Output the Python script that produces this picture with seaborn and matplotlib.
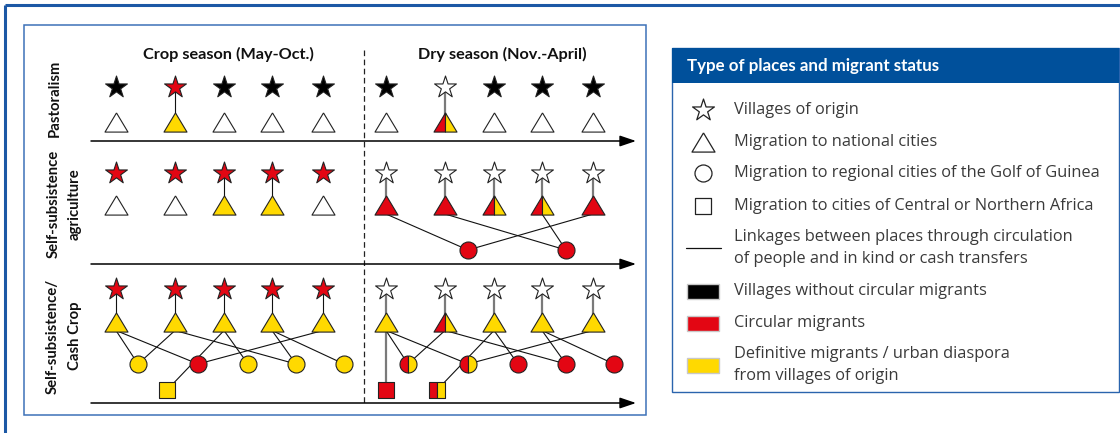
import numpy as np
import pandas as pd
import matplotlib
matplotlib.use("Agg")
import matplotlib.pyplot as plt
import seaborn as sns
from matplotlib import font_manager
from matplotlib.patches import Rectangle

# ---------------------------------------------------------------- data
rows = ["Pastoralism", "Self-subsistence\nagriculture", "Self-subsistence/\nCash Crop"]
seasons = ["Crop season (May-Oct.)", "Dry season (Nov.-April)"]
# status codes: K = village without circular migrants, R = circular migrants,
# Y = definitive migrants / urban diaspora, W = unmarked place, RY = both
stars_crop = [["K", "R", "K", "K", "K"], ["R"] * 5, ["R"] * 5]
stars_dry = [["K", "W", "K", "K", "K"], ["W"] * 5, ["W"] * 5]
tri_crop = [["W", "Y", "W", "W", "W"], ["W", "W", "Y", "Y", "W"], ["Y"] * 5]
tri_dry = [["W", "RY", "W", "W", "W"], ["R", "R", "RY", "RY", "R"], ["Y", "RY", "Y", "Y", "Y"]]
circ_crop = [[None] * 5, [None] * 5, ["Y", "R", "Y", "Y", "Y"]]
circ_dry = [[None] * 5, [None, "R", None, "R", None], ["RY", "RY", "R", "R", "R"]]
sq_crop = [[None, None], [None, None], [None, "Y"]]
sq_dry = [[None, None], [None, None], ["R", "RY"]]
# links: (triangle index, target kind, target index)
links_crop = [[], [],
              [(0, "c", 0), (0, "c", 1), (1, "c", 0), (1, "c", 3), (2, "s", 1),
               (2, "c", 2), (3, "c", 3), (3, "c", 4), (4, "c", 1)]]
links_dry = [[], [(0, "c", 1), (1, "c", 3), (3, "c", 3), (4, "c", 1)],
             [(0, "s", 0), (0, "c", 0), (0, "c", 1), (1, "c", 0), (1, "c", 3), (2, "s", 1),
              (2, "c", 2), (3, "c", 3), (3, "c", 4), (4, "c", 1)]]
legend_title = "Type of places and migrant status"
legend_shapes = ["Villages of origin", "Migration to national cities",
                 "Migration to regional cities of the Golf of Guinea",
                 "Migration to cities of Central or Northern Africa"]
legend_link = "Linkages between places through circulation\nof people and in kind or cash transfers"
legend_status = ["K", "R", "Y"]
legend_colors = ["Villages without circular migrants", "Circular migrants",
                 "Definitive migrants / urban diaspora\nfrom villages of origin"]

# ---------------------------------------------------------------- style / layout
sns.set_theme(style="white")
plt.rcParams["font.family"] = ["Open Sans", "DejaVu Sans"]

RED, YEL, BLK, WHT = "#e30613", "#ffd900", "#000000", "#ffffff"
FILL = {"K": BLK, "R": RED, "Y": YEL, "W": WHT}
EDGE = "#222222"
FRAME_BLUE = "#1c58a5"
HEAD_BLUE = "#00509b"

W, H = 1120, 433
SEASON_DX = [0, 270]
TRI_X = [116, 175, 224, 272, 323]
CIRC_X = [138, 198, 248, 296, 344]
SQ_X = [116, 167]
STAR_Y = [87, 173, 289]
TRI_Y = [121.5, 205, 321.5]
CIRC_Y = [None, 250, 364]
SQ_Y = 390
AXIS_Y = [141, 264, 403]
TRI_HALF_H = 9

PX = 0.72  # points per pixel at dpi 100
S_STAR = (16.5) ** 2
S_TRI = (23 * PX) ** 2
S_CIRC = (17 * PX) ** 2
S_SQ = (16 * PX) ** 2

TRI = [(0, 1), (-1.2, -1), (1.2, -1), (0, 1)]
TRI_L = [(0, 1), (-1.2, -1), (0, -1), (0, 1)]
TRI_R = [(0, 1), (0, -1), (1.2, -1), (0, 1)]
ang = np.linspace(np.pi / 2, 3 * np.pi / 2, 40)
CIRC_L = [(float(np.cos(a)), float(np.sin(a))) for a in ang] + [(0, 1)]
CIRC_R = [(-x, y) for x, y in CIRC_L]
SQ_L = [(-1, -1), (0, -1), (0, 1), (-1, 1), (-1, -1)]
SQ_R = [(0, -1), (1, -1), (1, 1), (0, 1), (0, -1)]
SHAPE = {"star": ("*", None, None, S_STAR), "tri": (TRI, TRI_L, TRI_R, S_TRI),
         "circ": ("o", CIRC_L, CIRC_R, S_CIRC), "sq": ("s", SQ_L, SQ_R, S_SQ)}

fig = plt.figure(figsize=(W / 100, H / 100), dpi=100)
ax = fig.add_axes([0, 0, 1, 1])
ax.set_xlim(0, W)
ax.set_ylim(H, 0)
ax.axis("off")
renderer = fig.canvas.get_renderer()

# narrow bold font choice
names = {f.name for f in font_manager.fontManager.ttflist}
if "Liberation Sans Narrow" in names:
    COND = dict(family="Liberation Sans Narrow", fontweight="bold")
elif "Lato" in names:
    COND = dict(family="Lato", fontweight="bold")
else:
    COND = dict(family="Roboto", fontweight="bold")
REG = dict(family=["Open Sans", "DejaVu Sans"])


def fit(text, target, **kw):
    t = ax.text(0, 0, text, fontsize=10, **kw)
    w = t.get_window_extent(renderer).width
    t.remove()
    return 10 * target / w


fs_title = fit(seasons[0], 171, **COND)
fs_row = fit(rows[0], 77, **COND)
fs_head = fit(legend_title, 253, **COND)
fs_leg = fit(legend_shapes[2], 366, **REG)

# ---------------------------------------------------------------- frames
ax.plot([5, W], [5, 5], color=FRAME_BLUE, lw=2.2, solid_capstyle="butt")
ax.plot([5, 5], [5, H], color=FRAME_BLUE, lw=2.2, solid_capstyle="butt")
ax.add_patch(Rectangle((24, 25), 622, 390, fill=False, ec="#3d72b8", lw=1.1))

# ---------------------------------------------------------------- places table
rec = []
links = []
for si, (st_s, tr_s, ci_s, sq_s, lk_s) in enumerate(
        [(stars_crop, tri_crop, circ_crop, sq_crop, links_crop),
         (stars_dry, tri_dry, circ_dry, sq_dry, links_dry)]):
    dx = SEASON_DX[si]
    for r in range(len(rows)):
        for i, s in enumerate(st_s[r]):
            rec.append(dict(kind="star", x=dx + TRI_X[i], y=STAR_Y[r], status=s))
        for i, s in enumerate(tr_s[r]):
            rec.append(dict(kind="tri", x=dx + TRI_X[i], y=TRI_Y[r], status=s))
            if s != "W":
                links.append((dx + TRI_X[i], STAR_Y[r], dx + TRI_X[i], TRI_Y[r], si))
        for i, s in enumerate(ci_s[r]):
            if s is not None:
                rec.append(dict(kind="circ", x=dx + CIRC_X[i], y=CIRC_Y[r], status=s))
        for i, s in enumerate(sq_s[r]):
            if s is not None:
                rec.append(dict(kind="sq", x=dx + SQ_X[i], y=SQ_Y, status=s))
        for ti, kind, j in lk_s[r]:
            x0, y0 = dx + TRI_X[ti], TRI_Y[r] + TRI_HALF_H
            if kind == "c":
                x1, y1 = dx + CIRC_X[j], CIRC_Y[r]
            else:
                x1, y1 = dx + SQ_X[j], SQ_Y
            links.append((x0, y0, x1, y1, si))
places = pd.DataFrame(rec)

# links
for x0, y0, x1, y1, si in links:
    vertical = abs(x1 - x0) < 1
    if si == 1 and vertical:
        ax.plot([x0, x1], [y0, y1], color="#7a7a7a", lw=1.6, zorder=1)
    else:
        ax.plot([x0, x1], [y0, y1], color="#111111", lw=0.8, zorder=1)

# markers
for (kind, status), sub in places.groupby(["kind", "status"]):
    full, left, right, size = SHAPE[kind]
    if status == "RY":
        sns.scatterplot(data=sub, x="x", y="y", marker=left, s=size, color=RED,
                        edgecolor=EDGE, linewidth=0.8, ax=ax, legend=False, zorder=3)
        sns.scatterplot(data=sub, x="x", y="y", marker=right, s=size, color=YEL,
                        edgecolor=EDGE, linewidth=0.8, ax=ax, legend=False, zorder=3)
    else:
        sns.scatterplot(data=sub, x="x", y="y", marker=full, s=size, color=FILL[status],
                        edgecolor=EDGE, linewidth=0.8, ax=ax, legend=False, zorder=3)

# time axes
for y in AXIS_Y:
    ax.annotate("", xy=(636, y), xytext=(91, y),
                arrowprops=dict(arrowstyle="-|>,head_length=0.65,head_width=0.22",
                                color="black", lw=1.1, mutation_scale=15, shrinkA=0, shrinkB=0))
ax.plot([364, 364], [50, 403], color="#222222", lw=0.9, dashes=(4.5, 2.8))

# titles
for si, t in enumerate(seasons):
    ax.text([228, 502][si], 54, t, ha="center", va="center", fontsize=fs_title, color="#111111", **COND)

ROW_LINES_X = [[55], [53.5, 75], [52.5, 75]]
ROW_CY = [98, 204, 336]
for r, lab in enumerate(rows):
    for k, line in enumerate(lab.split("\n")):
        ax.text(ROW_LINES_X[r][k], ROW_CY[r], line, rotation=90, ha="center", va="center",
                fontsize=fs_row, color="#111111", **COND)

# ---------------------------------------------------------------- legend
ax.add_patch(Rectangle((672, 48), 447, 344, fill=False, ec="#2a64ad", lw=1.0))
ax.add_patch(Rectangle((672, 48), 447, 35, fc=HEAD_BLUE, ec="none"))
ax.text(687, 66, legend_title, ha="left", va="center", color="white", fontsize=fs_head, **COND)

LX, TX = 703, 734
shape_y = [110, 142, 173, 206]
for k, (kind, label) in enumerate(zip(["star", "tri", "circ", "sq"], legend_shapes)):
    full, _, _, size = SHAPE[kind]
    sns.scatterplot(x=[LX], y=[shape_y[k]], marker=full, s=size, color="white",
                    edgecolor="#222222", linewidth=0.9, ax=ax, legend=False, zorder=3)
    ax.text(TX, shape_y[k], label, ha="left", va="center", fontsize=fs_leg, color="#3a3a3a", **REG)

ax.plot([686, 721], [248, 248], color="#111111", lw=0.9)
for k, line in enumerate(legend_link.split("\n")):
    ax.text(TX, 237 + 22 * k, line, ha="left", va="center", fontsize=fs_leg, color="#3a3a3a", **REG)

col_y = [291, 323, 365]
for k, (st, label) in enumerate(zip(legend_status, legend_colors)):
    ax.add_patch(Rectangle((687, col_y[k] - 7.5), 32, 15, fc=FILL[st], ec="#c8c8c8", lw=1.0))
    lines = label.split("\n")
    y0 = col_y[k] - 11 * (len(lines) - 1)
    for j, line in enumerate(lines):
        ax.text(TX, y0 + 22 * j, line, ha="left", va="center", fontsize=fs_leg, color="#3a3a3a", **REG)

fig.savefig("out.png", dpi=100)
